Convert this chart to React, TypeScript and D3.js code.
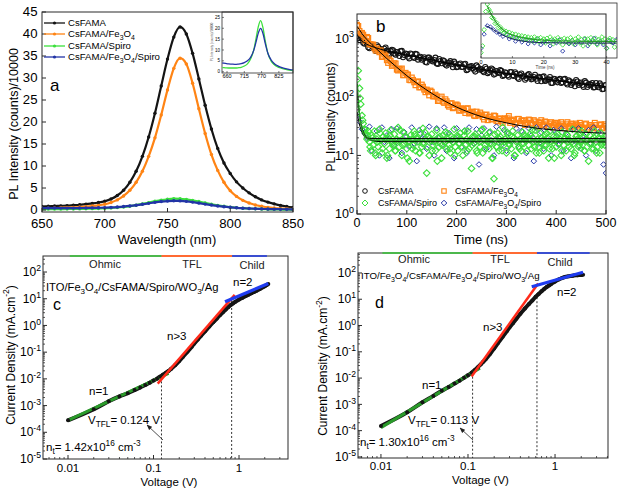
import React from "react";
import * as d3 from "d3";

const FONT = "'Liberation Sans', Arial, Helvetica, sans-serif";
const BLACK = "#141414";
const ORANGE = "#ff8414";
const GREEN = "#3ce03c";
const BLUE = "#2234a6";
const FIT_GREEN = "#2a9a2a";
const FIT_RED = "#ff2a1a";
const FIT_BLUE = "#1f3cf0";
const AXIS = "#2b2b2b";

// ---------- a: steady-state PL (counts/10000) ----------
const wavelengths = [650,655,660,665,670,675,680,685,690,695,700,705,710,715,720,725,730,735,740,745,750,755,760,765,770,775,780,785,790,795,800,805,810,815,820,825,830,835,840,845,850];
const plCsFAMA = [0.8,0.85,0.9,0.95,1.0,1.1,1.2,1.35,1.5,1.7,2.0,2.5,3.3,4.5,6.3,8.8,12.2,16.6,22.0,28.2,34.3,39.3,41.6,40.0,35.6,29.8,23.8,18.4,14.0,10.7,8.3,6.4,5.0,3.9,3.0,2.3,1.8,1.4,1.05,0.8,0.6];
const plCsFAMAFe3O4 = [0.4,0.42,0.45,0.5,0.55,0.6,0.68,0.78,0.9,1.05,1.3,1.7,2.3,3.2,4.5,6.3,8.8,12.2,16.4,21.6,27.3,32.2,34.5,33.2,28.8,23.0,17.4,12.6,9.0,6.3,4.4,3.1,2.2,1.6,1.15,0.85,0.6,0.45,0.35,0.28,0.2];
const plCsFAMASpiro = [0.22,0.22,0.22,0.22,0.23,0.24,0.26,0.28,0.31,0.35,0.4,0.47,0.57,0.7,0.88,1.1,1.38,1.68,1.98,2.25,2.45,2.57,2.55,2.42,2.2,1.92,1.62,1.32,1.06,0.84,0.66,0.52,0.41,0.33,0.27,0.22,0.18,0.15,0.12,0.1,0.08];
const plCsFAMAFe3O4Spiro = [0.45,0.45,0.45,0.44,0.44,0.44,0.45,0.46,0.48,0.5,0.54,0.6,0.68,0.79,0.93,1.1,1.3,1.52,1.74,1.92,2.04,2.1,2.07,1.97,1.8,1.58,1.35,1.13,0.93,0.76,0.62,0.5,0.41,0.34,0.29,0.25,0.22,0.2,0.18,0.17,0.16];
const insetWavelengths = [645,655,665,675,685,695,705,715,725,735,745,752,760,767,774,782,790,800,810,820,830,840,850,860,870];
const insetSpiro = [1.9,1.8,1.7,1.7,1.7,1.8,2.0,2.6,3.6,5.8,10.0,15.0,21.0,23.5,20.5,14.0,8.5,5.0,3.3,2.3,1.7,1.3,1.0,0.7,0.5];
const insetFe3O4Spiro = [4.0,3.8,3.6,3.5,3.4,3.5,3.7,4.2,5.0,6.6,9.8,13.5,18.0,20.0,17.8,12.8,8.5,5.5,3.8,2.8,2.1,1.6,1.3,1.0,0.8];

// ---------- b: TRPL (counts) ----------
const trplTime = d3.range(0, 500.1, 5);
const trplTimeHalf = d3.range(2.5, 500, 5);
const trplTimeFine = d3.range(0, 500.1, 2.5);
const trplTimeQuarter = d3.range(1.25, 500, 5);
const trplCsFAMA = [1208,930,990,805,806,675,778,665,762,653,589,663,616,525,638,549,582,500,610,519,536,454,535,461,533,471,430,476,387,471,415,427,373,442,375,410,342,383,361,400,322,358,324,361,286,323,337,291,345,291,295,264,302,266,305,240,276,256,278,235,255,221,266,228,247,202,250,225,209,245,199,219,204,221,185,224,190,199,172,204,188,194,172,200,173,192,160,177,194,160,176,148,175,159,160,145,173,146,157,136,159];
const trplCsFAMA2 = [1006,1036,839,907,701,764,703,607,717,657,600,697,543,609,624,526,555,605,476,551,484,550,480,543,432,485,452,395,471,436,402,468,365,410,422,356,376,408,321,371,326,371,324,367,293,330,309,270,323,300,277,324,254,285,294,248,263,287,227,264,233,266,233,264,212,239,225,196,235,219,203,238,187,212,219,187,198,218,172,201,177,203,178,203,163,184,173,152,183,171,159,186,147,166,172,146,155,170,135,158];
const trplFe3O4 = [1700,1330,1236,963,1055,791,780,675,670,578,481,530,423,436,338,375,291,301,305,235,242,195,214,177,180,145,162,133,133,106,122,102,102,86,101,79,84,68,78,66,74,58,64,59,63,52,55,48,56,48,50,41,50,45,41,48,39,42,39,42,40,47,40,41,36,42,39,40,36,41,36,40,34,37,40,34,37,32,37,33,34,32,37,32,34,30,35,32,35,31,33,29,35,30,33,29,33,29,34,30,32];
const trplFe3O4b = [1620,1209,1153,899,1014,787,782,619,620,622,486,500,380,409,354,372,282,293,234,257,240,192,195,158,184,146,149,120,124,128,102,109,85,94,83,91,72,77,64,73,71,59,62,53,64,53,56,47,50,54,45,49,40,46,42,47,38,43,36,43,43,36,39,34,42,36,39,33,36,40,34,38,31,36,33,38,31,35,30,36,36,31,34,29,37,32,34,30,33,36,30,34,28,33,31,36,29,33,29,34];
const trplSpiro = [60,280,140,75,48,35,28,24,19,26,
17,12,22,15,26,10,19,14,28,18,11,21,16,24,9,20,13,27,17,15,
23,12,19,30,14,18,10,25,16,21,13,17,8,22,19,15,26,12,20,17,
11,24,14,29,16,19,5,21,10,18,23,15,17,12,27,20,14,16,9,22,
18,25,13,19,15,11,21,17,28,14,20,12,16,24,18,10,22,15,19,26,
13,17,6,21,16,23,12,18,20,14,27,11,19,15,22,17,13,25,16,9,
4,18,14,24,12,21,17,30,15,19,11,23,16,18,13,26,20,10,17,22,
14,19,12,25,16,18,20,21,15,23,13,20,17,27,11,19,14,24,16,18,
12,22,15,20,9,26,17,13,21,18,14,23,16,19,10,25,15,20,12,22,
17,18,13,28,16,11,21,19,14,24,17,15,20,12,23,18,8,22,16,19,
13,26,17,14,20,11,24,16,19,15,21];
const trplSpiro2 = [200,95,40,27,22,
14,20,11,17,24,13,19,10,22,16,12,18,27,15,21,9,17,13,23,19,
11,16,25,14,20,12,18,8,21,15,17,24,13,19,10,22,16,14,26,12,
18,15,21,11,17,28,13,20,16,9,23,14,19,12,17,25,15,21,10,18,
13,16,22,12,19,27,14,17,11,20,15,24,13,18,9,21,16,12,19,23,
14,17,10,22,15,26,12,18,16,13,20,11,19,15,17];
const trplFe3O4Spiro = [48,38,28,24,
20,31,12,19,26,10,30,17,22,9,28,15,29,18,11,25,21,14,30,16,
8,27,19,23,13,31,17,10,29,20,15,30,12,24,18,9,29,21,14,26,
11,30,19,16,28,7,22,29,13,25,18,10,31,20,15,27,12,24,17,9,
29,14,26,19,11,29,22,8,30,16,25,13,30,18,10,27,21,15,29,12,
24,19,9,28,17,29,13,22,10,27,16,30,12,25,18,7,5];
const fitCsFAMATime = [0,5,10,20,40,60,80,100,150,200,250,300,350,400,450,500];
const fitCsFAMA = [1180,1000,900,790,680,610,560,520,428,350,295,250,216,190,168,150];
const fitFe3O4Time = [0,5,10,20,40,60,80,100,125,150,175,200,250,300,350,400,450,500];
const fitFe3O4 = [1600,1400,1200,950,650,450,320,230,160,115,86,67,46,36,30,27,25,24];
const fitSpiroTime = [1,3,5,8,12,16,22,30,60,500];
const fitSpiro = [170,80,50,32,24,20.5,19,18.3,18.2,18.2];
const fitFe3O4SpiroTime = [0,3,6,10,15,20,30,60,500];
const fitFe3O4Spiro = [55,40,31,25,21,19.8,19.5,19.5,19.5];
const fitSpiroBTime = [0,4,8,14,20,30,50,500];
const fitSpiroB = [130,60,35,24,20,18,17.2,17];
const insetTimeFine = d3.range(0, 43.1, 0.5);
const insetTime = d3.range(0, 43.1, 1);
const insetGreen = [9,14,40,130,210,150,125,88,82,60,63,46,49,38,40,33,36,29,34,27,31,25,30,24,28,23,27,21,26,22,25,20,24,19,25,21,23,18,24,20,22,17,23,19,25,21,16,22,20,24,18,21,15,23,19,22,17,24,20,16,22,19,25,17,21,14,23,19,22,16,24,20,18,23,15,21,19,25,17,22,12,20,23,18,21,13,19];
const insetBlue = [12,30,52,48,40,34,30,26,29,22,25,19,23,18,21,16,20,17,22,15,18,19,14,20,17,21,10,18,16,20,15,19,17,22,14,18,23,16,19,15,12,20,17,21];
const insetFitGreenTime = [2,3,4,5,6,7,8,10,12,15,18,22,28,35,43];
const insetFitGreen = [190,120,85,62,49,40,34.5,28.5,25.5,22.5,21,20,19.2,18.8,18.6];
const insetFitBlueTime = [1.5,3,5,7,9,12,15,20,30,43];
const insetFitBlue = [52,45,35,28,23.5,20,18.3,17.3,16.9,16.8];

// ---------- c, d: J-V (SCLC) ----------
const jvVoltageC = [0.01,0.02,0.03,0.04,0.05,0.06,0.07,0.08,0.09,0.10,0.11,0.12,0.13,0.14,0.15,0.16,0.18,0.20,0.22,0.25,0.28,0.30,0.33,0.36,0.40,0.45,0.50,0.55,0.60,0.65,0.70,0.75,0.80,0.85,0.90,1.0,1.1,1.2,1.3,1.4,1.5,1.6,1.7,1.8,1.9,2.0,2.1,2.2];
const jvCurrentC = [2.8e-4,7.3e-4,1.45e-3,2.2e-3,2.9e-3,3.8e-3,4.8e-3,5.9e-3,7.2e-3,8.6e-3,0.0102,0.0122,0.0145,0.017,0.0198,0.0235,0.033,0.047,0.066,0.105,0.16,0.21,0.3,0.41,0.6,0.92,1.32,1.82,2.45,3.15,3.95,4.85,5.8,6.7,7.6,9.3,11,12.6,14.3,16,17.9,19.9,22,24.4,27,29.6,32.5,35.5];
const jvVoltageD = [0.01,0.02,0.03,0.04,0.05,0.06,0.07,0.08,0.09,0.10,0.11,0.12,0.13,0.14,0.15,0.16,0.18,0.20,0.22,0.25,0.28,0.30,0.33,0.36,0.40,0.45,0.50,0.55,0.60,0.65,0.70,0.75,0.80,0.85,0.90,1.0,1.1,1.2,1.3,1.4,1.5,1.6,1.7,1.8,1.9,2.0,2.1];
const jvCurrentD = [1.5e-4,5.0e-4,1.2e-3,2.1e-3,3.3e-3,4.6e-3,6.2e-3,8.0e-3,0.0102,0.0128,0.016,0.0205,0.026,0.033,0.042,0.053,0.085,0.135,0.21,0.37,0.62,0.85,1.25,1.8,2.8,4.4,6.5,9.0,12.5,16,20,24.5,29,33,38,47,56,64,70,74,77,79,81,82,83,84,85];
const ohmicFitC: [number[], number[]] = [[0.01, 0.15], [2.8e-4, 0.016]];
const tflFitC: [number[], number[]] = [[0.112, 0.89], [0.0066, 14]];
const childFitC: [number[], number[]] = [[0.686, 2.2], [7.7, 37]];
const ohmicFitD: [number[], number[]] = [[0.01, 0.137], [1.3e-4, 0.024]];
const tflFitD: [number[], number[]] = [[0.11, 0.64], [0.0114, 40]];
const childFitD: [number[], number[]] = [[0.54, 2.1], [30, 107]];

type Seg = [string, "" | "sub" | "sup"];

function Rich({ segs, size }: { segs: Seg[]; size: number }) {
  let cur = 0;
  return (
    <>
      {segs.map(([t, k], i) => {
        const target = k === "sub" ? size * 0.3 : k === "sup" ? -size * 0.42 : 0;
        const dy = target - cur;
        cur = target;
        return (
          <tspan key={i} dy={dy} fontSize={k ? size * 0.72 : size}>
            {t}
          </tspan>
        );
      })}
    </>
  );
}

const diamond = (cx: number, cy: number, h: number) =>
  `M${cx},${cy - h}L${cx + h},${cy}L${cx},${cy + h}L${cx - h},${cy}Z`;

function PanelA() {
  const L = 42, R = 293, T = 12, B = 212;
  const x = d3.scaleLinear().domain([650, 850]).range([L, R]);
  const y = d3.scaleLinear().domain([-0.45, 45]).range([B, T]);
  const series = [
    { vals: plCsFAMA, color: BLACK, segs: [["CsFAMA", ""]] as Seg[] },
    { vals: plCsFAMAFe3O4, color: ORANGE, segs: [["CsFAMA/Fe", ""], ["3", "sub"], ["O", ""], ["4", "sub"]] as Seg[] },
    { vals: plCsFAMASpiro, color: GREEN, segs: [["CsFAMA/Spiro", ""]] as Seg[] },
    { vals: plCsFAMAFe3O4Spiro, color: BLUE, segs: [["CsFAMA/Fe", ""], ["3", "sub"], ["O", ""], ["4", "sub"], ["/Spiro", ""]] as Seg[] },
  ];
  const path = (vals: number[]) =>
    d3.line<number>().x((_, i) => x(wavelengths[i])).y((v) => y(v)).curve(d3.curveMonotoneX)(vals) || "";
  const xTicks = [650, 700, 750, 800, 850];
  const yTicks = d3.range(0, 46, 5);
  const iL = 222, iR = 293, iT = 12, iB = 73;
  const ix = d3.scaleLinear().domain([644, 870]).range([iL, iR]);
  const iy = d3.scaleLinear().domain([-0.6, 27.5]).range([iB, iT]);
  const ipath = (vals: number[]) =>
    d3.line<number>().x((_, i) => ix(insetWavelengths[i])).y((v) => iy(v)).curve(d3.curveMonotoneX)(vals) || "";
  const legendY = [23, 34, 46, 57];
  return (
    <g>
      <defs>
        <clipPath id="clipA"><rect x={L} y={T} width={R - L} height={B - T} /></clipPath>
        <clipPath id="clipAi"><rect x={iL} y={iT} width={iR - iL} height={iB - iT} /></clipPath>
      </defs>
      <g clipPath="url(#clipA)">
        {series.map((s, k) => (
          <g key={k}>
            <path d={path(s.vals)} fill="none" stroke={s.color} strokeWidth={2.2} />
            {s.vals.map((v, i) => (
              <circle key={i} cx={x(wavelengths[i])} cy={y(v)} r={1.7} fill={s.color} />
            ))}
          </g>
        ))}
      </g>
      {xTicks.map((t) => (
        <g key={t}>
          <line x1={x(t)} x2={x(t)} y1={B} y2={B - 4} stroke={AXIS} />
          <text x={x(t)} y={227.5} fontSize={13.2} textAnchor="middle">{t}</text>
        </g>
      ))}
      {yTicks.map((t) => (
        <g key={t}>
          <line x1={L} x2={L + 4} y1={y(t)} y2={y(t)} stroke={AXIS} />
          <text x={37.5} y={y(t) + 3.8} fontSize={13.2} textAnchor="end">{t}</text>
        </g>
      ))}
      <text x={167} y={243.5} fontSize={13} textAnchor="middle">Wavelength (nm)</text>
      <text transform="translate(17.5,124) rotate(-90)" fontSize={12.5} textAnchor="middle">PL Intensity (counts)/10000</text>
      <text x={50} y={91} fontSize={17}>a</text>
      {series.map((s, k) => (
        <g key={k}>
          <line x1={44} x2={65} y1={legendY[k]} y2={legendY[k]} stroke={s.color} strokeWidth={1.3} />
          <circle cx={54.5} cy={legendY[k]} r={1.6} fill={s.color} />
          <text x={68} y={legendY[k] + 3.4} fontSize={9.6}><Rich segs={s.segs} size={9.6} /></text>
        </g>
      ))}
      {/* inset */}
      <rect x={iL} y={iT} width={iR - iL} height={iB - iT} fill="#fff" stroke={AXIS} strokeWidth={0.8} />
      <g clipPath="url(#clipAi)">
        <path d={ipath(insetSpiro)} fill="none" stroke={GREEN} strokeWidth={1.3} />
        <path d={ipath(insetFe3O4Spiro)} fill="none" stroke={BLUE} strokeWidth={1.3} />
      </g>
      {[660, 715, 770, 825].map((t) => (
        <g key={t}>
          <line x1={ix(t)} x2={ix(t)} y1={iB} y2={iB - 2} stroke={AXIS} strokeWidth={0.6} />
          <text x={ix(t)} y={78} fontSize={5.5} textAnchor="middle">{t}</text>
        </g>
      ))}
      {[0, 5, 10, 15, 20, 25].map((t) => (
        <g key={t}>
          <line x1={iL} x2={iL + 2} y1={iy(t)} y2={iy(t)} stroke={AXIS} strokeWidth={0.6} />
          <text x={220} y={iy(t) + 1.6} fontSize={4.5} textAnchor="end">{t}</text>
        </g>
      ))}
      <text transform="translate(212.5,42) rotate(-90)" fontSize={3.2} textAnchor="middle" fill="#555">PL Intensity (counts)/10000</text>
      <rect x={L} y={T} width={R - L} height={B - T} fill="none" stroke={AXIS} strokeWidth={1} />
    </g>
  );
}

function PanelB() {
  const L = 357, R = 606, T = 14, B = 214;
  const x = d3.scaleLinear().domain([0, 500]).range([L, R]);
  const y = d3.scaleLog().domain([1, 2600]).range([B, T]);
  const fitLine = (ts: number[], vs: number[], sx: any, sy: any) =>
    d3.line<number>().x((_, i) => sx(ts[i])).y((v) => sy(v)).curve(d3.curveMonotoneX)(vs) || "";
  const iL = 481, iR = 617, iT = 3, iB = 58;
  const ix = d3.scaleLinear().domain([0, 43.3]).range([iL, iR]);
  const iy = d3.scaleLog().domain([6.4, 227]).range([iB, iT]);
  const minors: number[] = [];
  [0, 1, 2, 3].forEach((e) => [2, 3, 4, 5, 6, 7, 8, 9].forEach((m) => { const v = m * Math.pow(10, e); if (v < 2600) minors.push(v); }));
  const circ = (t: number, v: number, k: string) => (
    <circle key={k} cx={x(t)} cy={y(v)} r={2.5} fill="none" stroke={BLACK} strokeWidth={1.1} />
  );
  const sq = (t: number, v: number, k: string) => (
    <rect key={k} x={x(t) - 2.4} y={y(v) - 2.4} width={4.8} height={4.8} fill="none" stroke={ORANGE} strokeWidth={1.2} />
  );
  const gd = (t: number, v: number, k: string) => (
    <path key={k} d={diamond(x(t), y(v), 3.3)} fill="none" stroke={GREEN} strokeWidth={1.1} />
  );
  return (
    <g>
      <defs>
        <clipPath id="clipB"><rect x={L} y={T} width={R - L} height={B - T} /></clipPath>
        <clipPath id="clipBi"><rect x={iL} y={iT} width={iR - iL} height={iB - iT} /></clipPath>
      </defs>
      <g clipPath="url(#clipB)">
        {trplCsFAMA.map((v, i) => circ(trplTime[i], v, "k" + i))}
        {trplCsFAMA2.map((v, i) => circ(trplTimeHalf[i], v, "k2" + i))}
        {trplFe3O4.map((v, i) => sq(trplTime[i], v, "o" + i))}
        {trplFe3O4b.map((v, i) => sq(trplTimeHalf[i], v, "o2" + i))}
        {trplFe3O4Spiro.map((v, i) => (
          <path key={"b" + i} d={diamond(x(trplTime[i]), y(v), 2.8)} fill="none" stroke={BLUE} strokeWidth={1} />
        ))}
        {trplSpiro.map((v, i) => gd(trplTimeFine[i], v, "g" + i))}
        {trplSpiro2.map((v, i) => gd(trplTimeQuarter[i], v, "g2" + i))}
        <path d={fitLine(fitCsFAMATime, fitCsFAMA, x, y)} fill="none" stroke="#000" strokeWidth={1} />
        <path d={fitLine(fitFe3O4Time, fitFe3O4, x, y)} fill="none" stroke="#000" strokeWidth={1} />
        <path d={fitLine(fitSpiroBTime, fitSpiroB, x, y)} fill="none" stroke="#000" strokeWidth={1} />
        <path d={fitLine(fitFe3O4SpiroTime, fitFe3O4Spiro, x, y)} fill="none" stroke="#000" strokeWidth={1} />
        <path d={fitLine(fitSpiroTime, fitSpiro, x, y)} fill="none" stroke={FIT_GREEN} strokeWidth={1.2} />
      </g>
      {[0, 100, 200, 300, 400, 500].map((t) => (
        <g key={t}>
          <line x1={x(t)} x2={x(t)} y1={B} y2={B - 4} stroke={AXIS} />
          <text x={x(t)} y={226.5} fontSize={12.5} textAnchor="middle">{t}</text>
        </g>
      ))}
      {[0, 1, 2, 3].map((e) => (
        <g key={e}>
          <line x1={L} x2={L + 4} y1={y(Math.pow(10, e))} y2={y(Math.pow(10, e))} stroke={AXIS} />
          <text x={354} y={y(Math.pow(10, e)) + 4.3} fontSize={12.5} textAnchor="end"><Rich segs={[["10", ""], [String(e), "sup"]]} size={12.5} /></text>
        </g>
      ))}
      {minors.map((v) => (
        <line key={v} x1={L} x2={L + 2} y1={y(v)} y2={y(v)} stroke={AXIS} strokeWidth={0.8} />
      ))}
      <text x={481} y={243.5} fontSize={13} textAnchor="middle">Time (ns)</text>
      <text transform="translate(334.5,117) rotate(-90)" fontSize={12} textAnchor="middle">PL Intensity (counts)</text>
      <text x={376} y={32} fontSize={17}>b</text>
      {/* legend */}
      <circle cx={365} cy={191} r={2.3} fill="none" stroke={BLACK} strokeWidth={1} />
      <text x={378} y={194.2} fontSize={9}>CsFAMA</text>
      <rect x={441.8} y={188.8} width={4.4} height={4.4} fill="none" stroke={ORANGE} strokeWidth={1.1} />
      <text x={455} y={194.2} fontSize={9}><Rich segs={[["CsFAMA/Fe", ""], ["3", "sub"], ["O", ""], ["4", "sub"]]} size={9} /></text>
      <path d={diamond(365, 203, 3)} fill="none" stroke={GREEN} strokeWidth={1} />
      <text x={378} y={206.2} fontSize={9}>CsFAMA/Spiro</text>
      <path d={diamond(444, 203, 2.8)} fill="none" stroke={BLUE} strokeWidth={1} />
      <text x={455} y={206.2} fontSize={9}><Rich segs={[["CsFAMA/Fe", ""], ["3", "sub"], ["O", ""], ["4", "sub"], ["/Spiro", ""]]} size={9} /></text>
      {/* inset */}
      <g clipPath="url(#clipBi)">
        {insetBlue.map((v, i) => (
          <path key={"ib" + i} d={diamond(ix(insetTime[i]), iy(v), 2.1)} fill="none" stroke={BLUE} strokeWidth={0.9} />
        ))}
        {insetGreen.map((v, i) => (
          <path key={"ig" + i} d={diamond(ix(insetTimeFine[i]), iy(v), 2.3)} fill="none" stroke={GREEN} strokeWidth={0.9} />
        ))}
        <path d={fitLine(insetFitBlueTime, insetFitBlue, ix, iy)} fill="none" stroke="#1a2a5a" strokeWidth={1} />
        <path d={fitLine(insetFitGreenTime, insetFitGreen, ix, iy)} fill="none" stroke={FIT_GREEN} strokeWidth={1.1} />
      </g>
      <rect x={iL} y={iT} width={iR - iL} height={iB - iT} fill="none" stroke={AXIS} strokeWidth={0.8} />
      {[0, 10, 20, 30, 40].map((t) => (
        <g key={t}>
          <line x1={ix(t)} x2={ix(t)} y1={iB} y2={iB - 2} stroke={AXIS} strokeWidth={0.6} />
          <text x={ix(t)} y={63.5} fontSize={5.5} textAnchor="middle">{t}</text>
        </g>
      ))}
      <text x={545} y={69} fontSize={4.5} textAnchor="middle" fill="#444">Time (ns)</text>
      <rect x={L} y={T} width={R - L} height={B - T} fill="none" stroke={AXIS} strokeWidth={1} />
    </g>
  );
}

type JVCfg = {
  id: string;
  L: number; R: number; T: number; B: number;
  xDomain: [number, number]; yDomain: [number, number];
  V: number[]; J: number[];
  ohmic: [number[], number[]]; tfl: [number[], number[]]; child: [number[], number[]];
  bars: [number, number, string][];
  dashes: [number, number][];
  device: Seg[]; deviceX: number; deviceY: number; deviceSize: number;
  letterX: number; letterY: number;
  regionLabels: [string, number, number][];
  n2: [number, number]; n3: [number, number]; n1: [number, number];
  vtfl: string; vtflX: number; vtflY: number;
  nt: string; ntX: number; ntY: number;
  arrow: [number, number, number, number];
  yTickX: number; xTickY: number;
  xLabel: [number, number]; yLabel: [number, number];
};

const cfgC: JVCfg = {
  id: "c", L: 43, R: 288, T: 256, B: 459,
  xDomain: [0.0051, 3.74], yDomain: [1e-5, 398],
  V: jvVoltageC, J: jvCurrentC,
  ohmic: ohmicFitC, tfl: tflFitC, child: childFitC,
  bars: [[0.0105, 0.124, "#4cb84c"], [0.124, 0.83, "#ff6a33"], [0.83, 2.12, "#3a4ed0"]],
  dashes: [[0.124, 0.016], [0.82, 9]],
  device: [["ITO/Fe", ""], ["3", "sub"], ["O", ""], ["4", "sub"], ["/CsFAMA/Spiro/WO", ""], ["3", "sub"], ["/Ag", ""]],
  deviceX: 46, deviceY: 291, deviceSize: 11.2,
  letterX: 53, letterY: 310,
  regionLabels: [["Ohmic", 105, 268], ["TFL", 192, 268], ["Child", 252, 269]],
  n2: [233, 286], n3: [167, 340], n1: [89, 395],
  vtfl: "= 0.124 V", vtflX: 88, vtflY: 424,
  nt: "= 1.42x10", ntX: 46, ntY: 451,
  arrow: [163, 440, 147, 425],
  yTickX: 41, xTickY: 471.5,
  xLabel: [169, 485.5], yLabel: [14.5, 355],
};

const cfgD: JVCfg = {
  id: "d", L: 358, R: 608, T: 253, B: 458,
  xDomain: [0.00545, 4.06], yDomain: [9.1e-6, 575],
  V: jvVoltageD, J: jvCurrentD,
  ohmic: ohmicFitD, tfl: tflFitD, child: childFitD,
  bars: [[0.0104, 0.113, "#4cb84c"], [0.113, 0.62, "#ff6a33"], [0.62, 2.5, "#3a4ed0"]],
  dashes: [[0.113, 0.016], [0.62, 17]],
  device: [["ITO/Fe", ""], ["3", "sub"], ["O", ""], ["4", "sub"], ["/CsFAMA/Fe", ""], ["3", "sub"], ["O", ""], ["4", "sub"], ["/Spiro/WO", ""], ["3", "sub"], ["/Ag", ""]],
  deviceX: 361, deviceY: 279, deviceSize: 9.7,
  letterX: 375, letterY: 308,
  regionLabels: [["Ohmic", 414, 263], ["TFL", 500, 263], ["Child", 560, 266]],
  n2: [557, 296], n3: [483, 331], n1: [422, 389],
  vtfl: "= 0.113 V", vtflX: 408, vtflY: 424,
  nt: "= 1.30x10", ntX: 360, ntY: 446,
  arrow: [473, 440, 460, 428],
  yTickX: 356, xTickY: 470,
  xLabel: [480.5, 483.5], yLabel: [327, 366],
};

function JVPanel({ cfg }: { cfg: JVCfg }) {
  const { L, R, T, B } = cfg;
  const x = d3.scaleLog().domain(cfg.xDomain).range([L, R]);
  const y = d3.scaleLog().domain(cfg.yDomain).range([B, T]);
  const ln = (vs: number[], js: number[]) =>
    d3.line<number>().x((_, i) => x(vs[i])).y((j) => y(j)).curve(d3.curveMonotoneX)(js) || "";
  const yExps = [-5, -4, -3, -2, -1, 0, 1, 2];
  const yMinor: number[] = [];
  d3.range(-6, 3).forEach((e) => [2, 3, 4, 5, 6, 7, 8, 9].forEach((m) => {
    const v = m * Math.pow(10, e);
    if (v > cfg.yDomain[0] && v < cfg.yDomain[1]) yMinor.push(v);
  }));
  const xMinor: number[] = [];
  d3.range(-3, 1).forEach((e) => [2, 3, 4, 5, 6, 7, 8, 9].forEach((m) => {
    const v = m * Math.pow(10, e);
    if (v > cfg.xDomain[0] && v < cfg.xDomain[1]) xMinor.push(v);
  }));
  const clip = "clipJV" + cfg.id;
  const fs = 11.5;
  return (
    <g>
      <defs>
        <clipPath id={clip}><rect x={L} y={T} width={R - L} height={B - T} /></clipPath>
      </defs>
      <g clipPath={`url(#${clip})`}>
        {cfg.dashes.map(([v, jt], i) => (
          <line key={i} x1={x(v)} x2={x(v)} y1={y(jt)} y2={B} stroke="#333" strokeWidth={1} strokeDasharray="2,2" />
        ))}
        <path d={ln(cfg.V, cfg.J)} fill="none" stroke={BLACK} strokeWidth={4} />
        <path d={ln(cfg.ohmic[0], cfg.ohmic[1])} fill="none" stroke={FIT_GREEN} strokeWidth={3} />
        {cfg.V.map((v, i) => (
          <circle key={i} cx={x(v)} cy={y(cfg.J[i])} r={2} fill={BLACK} />
        ))}
        <path d={ln(cfg.tfl[0], cfg.tfl[1])} fill="none" stroke={FIT_RED} strokeWidth={2.5} />
        <path d={ln(cfg.child[0], cfg.child[1])} fill="none" stroke={FIT_BLUE} strokeWidth={3.2} />
      </g>
      {yExps.map((e) => (
        <g key={e}>
          <line x1={L} x2={L + 4} y1={y(Math.pow(10, e))} y2={y(Math.pow(10, e))} stroke={AXIS} />
          <text x={cfg.yTickX} y={y(Math.pow(10, e)) + 4.2} fontSize={12} textAnchor="end"><Rich segs={[["10", ""], [String(e), "sup"]]} size={12} /></text>
        </g>
      ))}
      {yMinor.map((v) => (
        <line key={v} x1={L} x2={L + 2} y1={y(v)} y2={y(v)} stroke={AXIS} strokeWidth={0.8} />
      ))}
      {[[0.01, "0.01"], [0.1, "0.1"], [1, "1"]].map(([v, s]) => (
        <g key={s as string}>
          <line x1={x(v as number)} x2={x(v as number)} y1={B} y2={B - 4} stroke={AXIS} />
          <text x={x(v as number)} y={cfg.xTickY} fontSize={11.5} textAnchor="middle">{s}</text>
        </g>
      ))}
      {xMinor.map((v) => (
        <line key={v} x1={x(v)} x2={x(v)} y1={B} y2={B - 2} stroke={AXIS} strokeWidth={0.8} />
      ))}
      <text x={cfg.xLabel[0]} y={cfg.xLabel[1]} fontSize={11.5} textAnchor="middle">Voltage (V)</text>
      <text transform={`translate(${cfg.yLabel[0]},${cfg.yLabel[1]}) rotate(-90)`} fontSize={12} textAnchor="middle">
        <Rich segs={[["Current Density (mA.cm", ""], ["-2", "sup"], [")", ""]]} size={12} />
      </text>
      {cfg.regionLabels.map(([s, lx, ly]) => (
        <text key={s} x={lx} y={ly} fontSize={11} textAnchor="middle" fill="#222">{s}</text>
      ))}
      <text x={cfg.deviceX} y={cfg.deviceY} fontSize={cfg.deviceSize}><Rich segs={cfg.device} size={cfg.deviceSize} /></text>
      <text x={cfg.letterX} y={cfg.letterY} fontSize={16}>{cfg.id}</text>
      <text x={cfg.n2[0]} y={cfg.n2[1]} fontSize={fs}>n=2</text>
      <text x={cfg.n3[0]} y={cfg.n3[1]} fontSize={fs}>n&gt;3</text>
      <text x={cfg.n1[0]} y={cfg.n1[1]} fontSize={fs}>n=1</text>
      <text x={cfg.vtflX} y={cfg.vtflY} fontSize={fs}><Rich segs={[["V", ""], ["TFL", "sub"], [cfg.vtfl, ""]]} size={fs} /></text>
      <text x={cfg.ntX} y={cfg.ntY} fontSize={fs}><Rich segs={[["n", ""], ["t", "sub"], [cfg.nt, ""], ["16", "sup"], [" cm", ""], ["-3", "sup"]]} size={fs} /></text>
      <line x1={cfg.arrow[0]} y1={cfg.arrow[1]} x2={cfg.arrow[2]} y2={cfg.arrow[3]} stroke="#222" strokeWidth={0.8} markerEnd="url(#arrowHead)" />
      <rect x={L} y={T} width={R - L} height={B - T} fill="none" stroke={AXIS} strokeWidth={1} />
      {cfg.bars.map(([v0, v1, c], i) => (
        <line key={"t" + i} x1={x(v0)} x2={x(v1)} y1={T} y2={T} stroke={c} strokeWidth={2.2} />
      ))}
    </g>
  );
}

export default function App() {
  return (
    <svg width={620} height={488} viewBox="0 0 620 488" style={{ position: "absolute", left: 0, top: 0, background: "#fff" }} fontFamily={FONT}>
      <defs>
        <marker id="arrowHead" viewBox="0 0 10 10" refX="9" refY="5" markerWidth="7" markerHeight="7" orient="auto">
          <path d="M0,1 L10,5 L0,9 z" fill="#222" />
        </marker>
      </defs>
      <rect width={620} height={488} fill="#fff" />
      <PanelA />
      <PanelB />
      <JVPanel cfg={cfgC} />
      <JVPanel cfg={cfgD} />
    </svg>
  );
}
